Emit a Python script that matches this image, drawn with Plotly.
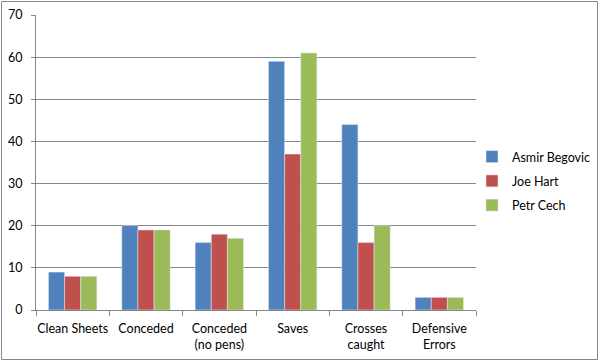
import plotly.graph_objects as go

categories = ["Clean Sheets", "Conceded", "Conceded<br>(no pens)", "Saves", "Crosses<br>caught", "Defensive<br>Errors"]
asmir = [9, 20, 16, 59, 44, 3]
hart = [8, 19, 18, 37, 16, 3]
cech = [8, 19, 17, 61, 20, 3]
y_ticks = [0, 10, 20, 30, 40, 50, 60, 70]

W, H = 600, 362
L, R, T, B = 36, 124, 15, 52
pw, ph = W - L - R, H - T - B

fig = go.Figure()
fig.add_bar(x=categories, y=asmir, name="Asmir Begovic", marker_color="#4F81BD", legendgroup="a")
fig.add_bar(x=categories, y=hart, name="Joe Hart", marker_color="#C0504D", legendgroup="b")
fig.add_bar(x=categories, y=cech, name="Petr Cech", marker_color="#9BBB59", legendgroup="c")

font = dict(family="Lato, Open Sans, sans-serif", size=12.5, color="#000000")

def px_x(p):
    return (p - L) / pw

def px_y(p):
    return (H - B - p) / ph

fig.update_layout(
    width=W, height=H,
    margin=dict(l=L, r=R, t=T, b=B, autoexpand=False),
    paper_bgcolor="white", plot_bgcolor="white",
    barmode="group", bargap=0.34, bargroupgap=0,
    font=font,
    showlegend=True,
    legend=dict(x=px_x(472), y=px_y(181), xanchor="left", yanchor="middle",
                font=dict(family="Lato, Open Sans, sans-serif", size=12.5),
                itemwidth=30, tracegroupgap=5, traceorder="grouped",
                bgcolor="rgba(0,0,0,0)"),
    xaxis=dict(showline=True, linecolor="#868686", linewidth=1,
               ticks="outside", tickson="boundaries", ticklen=5, tickcolor="#868686",
               showgrid=False, tickfont=font, tickangle=0, automargin=False,
               ticklabelstandoff=7),
    yaxis=dict(range=[0, 70], tickvals=y_ticks, showline=True, linecolor="#868686",
               linewidth=1, ticks="outside", ticklen=4, tickcolor="#868686",
               showgrid=True, gridcolor="#868686", gridwidth=1, zeroline=False,
               tickfont=font, ticklabelstandoff=6, automargin=False),
    shapes=[dict(type="rect", xref="paper", yref="paper",
                 x0=px_x(1.5), x1=px_x(597.5), y0=px_y(359.5), y1=px_y(1.5),
                 line=dict(color="#868686", width=1), fillcolor="rgba(0,0,0,0)", layer="above")],
)

fig.write_html("out.html", config={"displayModeBar": False},
               post_script="document.body.style.margin='0';document.body.style.overflow='hidden';")
